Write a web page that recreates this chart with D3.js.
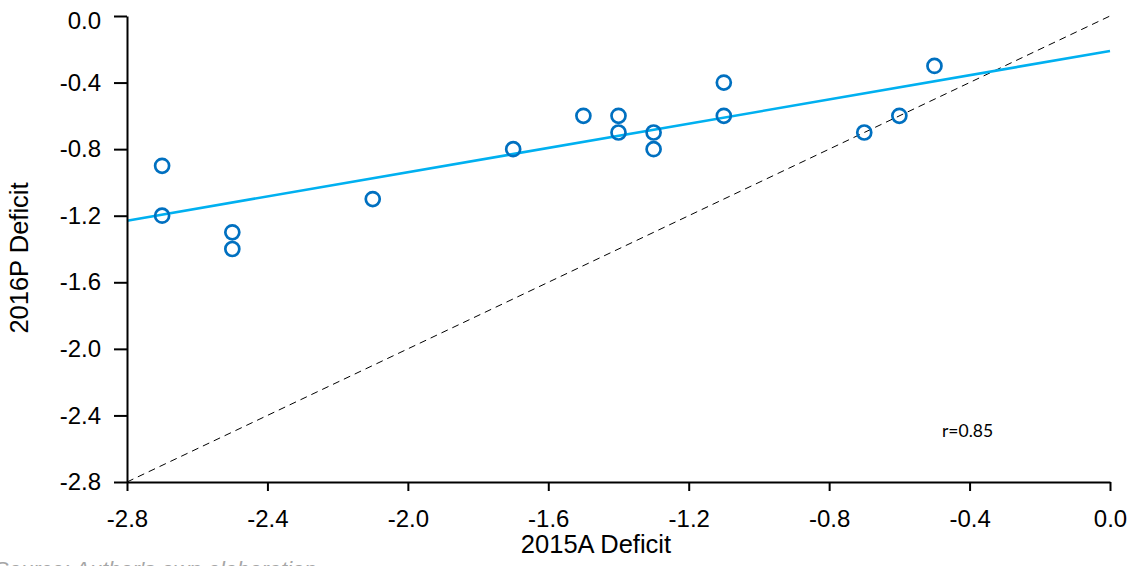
<!DOCTYPE html>
<html><head><meta charset="utf-8">
<script src="https://cdn.jsdelivr.net/npm/d3@7"></script>
<style>body{margin:0;background:#fff}svg{display:block}</style>
</head><body>
<svg id="c" width="1135" height="566"></svg>
<script>
const xValues = [-2.7,-2.7,-2.5,-2.5,-2.1,-1.7,-1.5,-1.4,-1.4,-1.3,-1.3,-1.1,-1.1,-0.7,-0.6,-0.5];
const yValues = [-0.9,-1.2,-1.3,-1.4,-1.1,-0.8,-0.6,-0.6,-0.7,-0.7,-0.8,-0.4,-0.6,-0.7,-0.6,-0.3];
const fitLine = [[-2.8,-1.23],[0,-0.21]];
const identityLine = [[-2.8,-2.8],[0,0]];
const tickValues = [-2.8,-2.4,-2.0,-1.6,-1.2,-0.8,-0.4,0.0];
const xTitle = "2015A Deficit", yTitle = "2016P Deficit", rLabel = "r=0.85";
const sourceText = "Source: Author's own elaboration";

const svg = d3.select("#c");
const x = d3.scaleLinear().domain([-2.8,0]).range([127,1110]);
const y = d3.scaleLinear().domain([-2.8,0]).range([482,16]);
const fmt = v => d3.format(".1f")(v).replace("\u2212","-");
const FONT = "Liberation Sans, Arial, sans-serif";

// identity dashed line
svg.append("line")
  .attr("x1",x(identityLine[0][0])).attr("y1",y(identityLine[0][1]))
  .attr("x2",x(identityLine[1][0])).attr("y2",y(identityLine[1][1]))
  .attr("stroke","#000").attr("stroke-width",1).attr("stroke-dasharray","7,5");

// fit line
svg.append("line")
  .attr("x1",x(fitLine[0][0])).attr("y1",y(fitLine[0][1]))
  .attr("x2",x(fitLine[1][0])).attr("y2",y(fitLine[1][1]))
  .attr("stroke","#00b0f0").attr("stroke-width",2.6);

// points
svg.append("g").selectAll("circle").data(xValues.map((v,i)=>[v,yValues[i]])).join("circle")
  .attr("cx",d=>x(d[0])).attr("cy",d=>y(d[1])).attr("r",7)
  .attr("fill","none").attr("stroke","#0070c0").attr("stroke-width",2.7);

// axes
const xAxis = svg.append("g").attr("transform","translate(0,482)")
  .call(d3.axisBottom(x).tickValues(tickValues).tickFormat(fmt).tickSize(9).tickSizeOuter(0));
const yAxis = svg.append("g").attr("transform","translate(127,0)")
  .call(d3.axisLeft(y).tickValues(tickValues).tickFormat(fmt).tickSize(13).tickSizeOuter(0).tickPadding(13));
[xAxis,yAxis].forEach(a=>{
  a.select(".domain").attr("stroke","#000").attr("stroke-width",2);
  a.selectAll(".tick line").attr("stroke","#000").attr("stroke-width",2);
  a.selectAll("text").attr("font-family",FONT).attr("font-size",24).attr("fill","#000");
});
xAxis.selectAll("text").attr("y",45).attr("dy",0);
yAxis.selectAll(".tick").filter(d=>d===0).select("text").attr("dy","0.52em");

// titles
svg.append("text").attr("x",596).attr("y",553).attr("text-anchor","middle")
  .attr("font-family",FONT).attr("font-size",25.5).text(xTitle);
svg.append("text").attr("transform","translate(28,258) rotate(-90)").attr("text-anchor","middle")
  .attr("font-family",FONT).attr("font-size",25.5).text(yTitle);
svg.append("text").attr("x",942).attr("y",437)
  .attr("font-family","Lato, Open Sans, sans-serif").attr("font-size",17.5).attr("fill","#000").text(rLabel);
svg.append("text").attr("x",-6).attr("y",577)
  .attr("font-family",FONT).attr("font-style","italic").attr("font-size",22)
  .attr("fill","#a6a6a6").text(sourceText);
</script>
</body></html>
